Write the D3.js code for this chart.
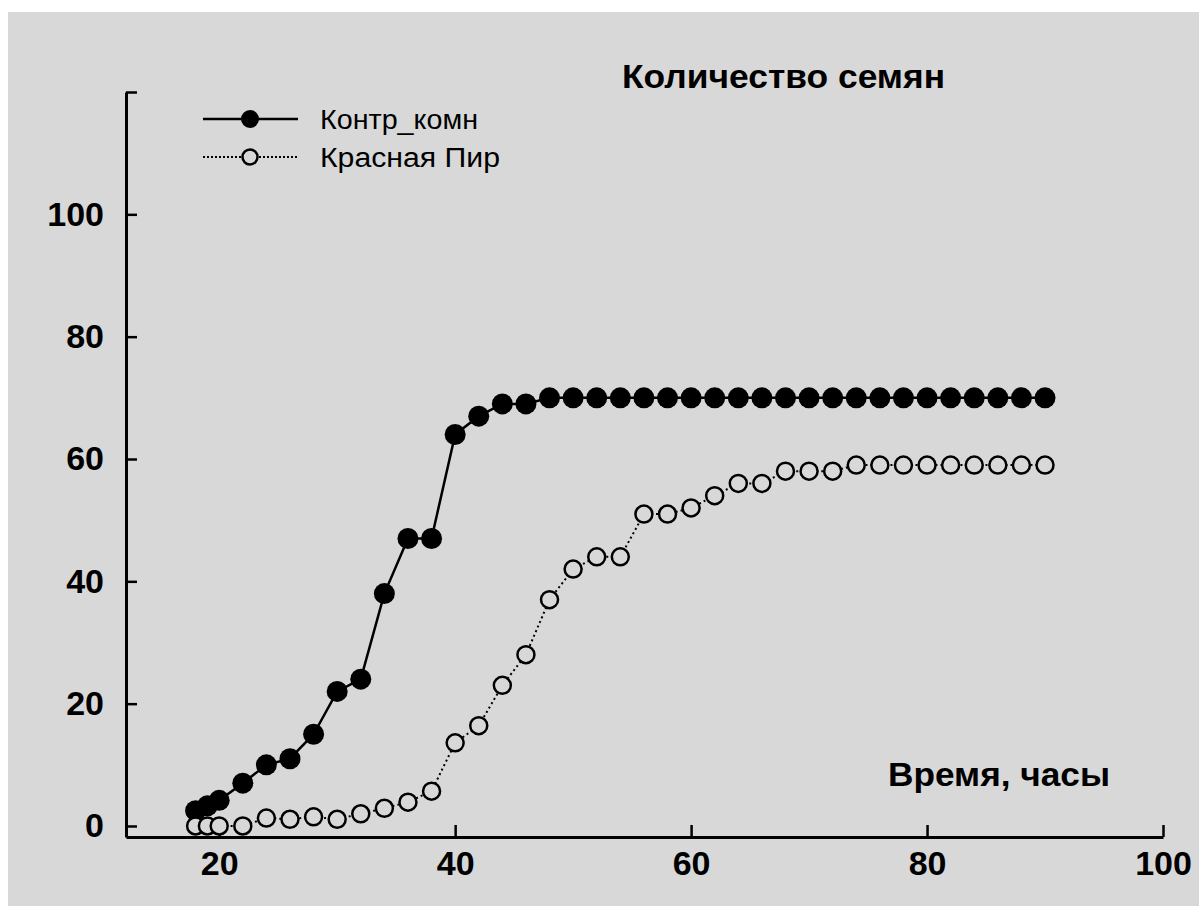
<!DOCTYPE html>
<html>
<head>
<meta charset="utf-8">
<script src="https://cdn.jsdelivr.net/npm/d3@7"></script>
<style>
  body { margin: 0; background: #fff; }
  svg { display: block; }
  text { font-family: "Liberation Sans", Arial, sans-serif; fill: #000; }
</style>
</head>
<body>
<script>
// hours of germination
const hours = [18, 19, 20, 22, 24, 26, 28, 30, 32, 34, 36, 38, 40, 42, 44, 46, 48, 50, 52, 54,
               56, 58, 60, 62, 64, 66, 68, 70, 72, 74, 76, 78, 80, 82, 84, 86, 88, 90];
const control = [2.5, 3.3, 4.2, 7, 10, 11, 15, 22, 24, 38, 47, 47, 64, 67, 69, 69, 70, 70, 70, 70,
                 70, 70, 70, 70, 70, 70, 70, 70, 70, 70, 70, 70, 70, 70, 70, 70, 70, 70];
const redPyr = [0, 0, 0, 0, 1.3, 1.1, 1.5, 1.1, 2, 2.9, 3.9, 5.7, 13.6, 16.4, 23, 28, 37, 42, 44, 44,
                51, 51, 52, 54, 56, 56, 58, 58, 58, 59, 59, 59, 59, 59, 59, 59, 59, 59];
const seriesNames = ['Контр_комн', 'Красная Пир'];
const xTicks = [20, 40, 60, 80, 100];
const yTicks = [0, 20, 40, 60, 80, 100, 120];

const W = 1199, H = 906;
const bg = '#d8d8d8';

const svg = d3.select('body').append('svg')
    .attr('width', W)
    .attr('height', H);

svg.append('rect')
    .attr('x', 8).attr('y', 12)
    .attr('width', W - 8).attr('height', H - 12)
    .attr('fill', bg);

const x = d3.scaleLinear().domain([12.1, 100]).range([126, 1163]);
const y = d3.scaleLinear().domain([-1.8, 120]).range([837, 92]);

// axes
const xAxis = svg.append('g')
    .attr('transform', `translate(0, ${y.range()[0]})`)
    .call(d3.axisBottom(x).tickValues(xTicks).tickSizeInner(-12).tickSizeOuter(0).tickPadding(14));

const yAxis = svg.append('g')
    .attr('transform', `translate(${x.range()[0]}, 0)`)
    .call(d3.axisLeft(y).tickValues(yTicks).tickSizeInner(-11).tickSizeOuter(0).tickPadding(22)
        .tickFormat(d => d === 120 ? '' : d));

[xAxis, yAxis].forEach(a => {
    a.select('.domain').attr('stroke', '#000').attr('stroke-width', 3);
    a.selectAll('.tick line').attr('stroke', '#000').attr('stroke-width', 2.5);
    a.selectAll('.tick text')
        .style('font-size', '34px')
        .style('font-weight', 'bold')
        .style('font-family', '"Liberation Sans", Arial, sans-serif')
        .attr('fill', '#000');
});

const pts1 = hours.map((h, i) => ({ h, v: control[i] }));
const pts2 = hours.map((h, i) => ({ h, v: redPyr[i] }));

const line = d3.line().x(d => x(d.h)).y(d => y(d.v));

// control: solid line, filled circles
svg.append('path')
    .datum(pts1)
    .attr('d', line)
    .attr('fill', 'none')
    .attr('stroke', '#000')
    .attr('stroke-width', 2.5);

svg.selectAll('.dot1')
    .data(pts1)
    .enter()
    .append('circle')
    .attr('class', 'dot1')
    .attr('cx', d => x(d.h))
    .attr('cy', d => y(d.v))
    .attr('r', 10.5)
    .attr('fill', '#000');

// red pyramid: dotted line, open circles
svg.append('path')
    .datum(pts2)
    .attr('d', line)
    .attr('fill', 'none')
    .attr('stroke', '#000')
    .attr('stroke-width', 2)
    .attr('stroke-dasharray', '2,3');

svg.selectAll('.dot2')
    .data(pts2)
    .enter()
    .append('circle')
    .attr('class', 'dot2')
    .attr('cx', d => x(d.h))
    .attr('cy', d => y(d.v))
    .attr('r', 8.5)
    .attr('fill', bg)
    .attr('stroke', '#000')
    .attr('stroke-width', 2.5);

// legend
const legend = svg.append('g');
const rows = [
    { name: seriesNames[0], y: 119, filled: true, len: 158 },
    { name: seriesNames[1], y: 157, filled: false, len: 180 }
];
rows.forEach(r => {
    legend.append('line')
        .attr('x1', 203).attr('x2', 298)
        .attr('y1', r.y).attr('y2', r.y)
        .attr('stroke', '#000')
        .attr('stroke-width', r.filled ? 2.5 : 2)
        .attr('stroke-dasharray', r.filled ? null : '2,2');
    legend.append('circle')
        .attr('cx', 250).attr('cy', r.y)
        .attr('r', r.filled ? 9 : 7.5)
        .attr('fill', r.filled ? '#000' : bg)
        .attr('stroke', '#000')
        .attr('stroke-width', r.filled ? 0 : 2.5);
    legend.append('text')
        .attr('x', 320).attr('y', r.y)
        .attr('dy', '0.36em')
        .attr('textLength', r.len)
        .attr('lengthAdjust', 'spacingAndGlyphs')
        .style('font-size', '27px')
        .text(r.name);
});

// title and x label
svg.append('text')
    .attr('x', 622).attr('y', 88)
    .attr('textLength', 323)
    .attr('lengthAdjust', 'spacingAndGlyphs')
    .style('font-size', '34px')
    .style('font-weight', 'bold')
    .text('Количество семян');

svg.append('text')
    .attr('x', 888).attr('y', 786)
    .attr('textLength', 222)
    .attr('lengthAdjust', 'spacingAndGlyphs')
    .style('font-size', '33px')
    .style('font-weight', 'bold')
    .text('Время, часы');
</script>
</body>
</html>
